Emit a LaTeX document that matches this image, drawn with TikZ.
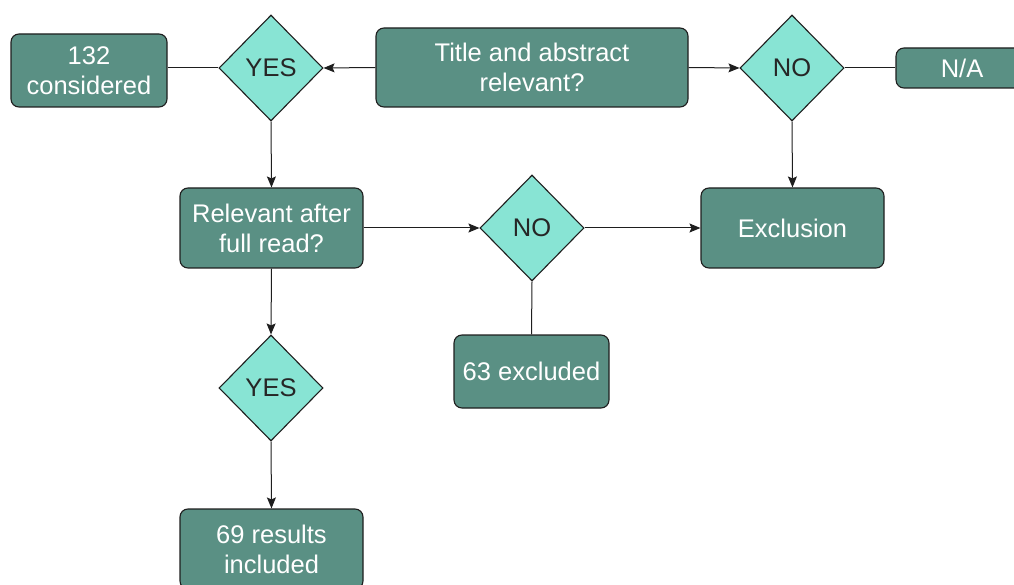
\documentclass[tikz,border=0pt]{standalone}
\usepackage{fontspec}
\setmainfont{Liberation Sans}
\usetikzlibrary{shapes.geometric,arrows.meta}
\definecolor{boxfill}{RGB}{90,144,132}
\definecolor{diafill}{RGB}{136,228,212}
\definecolor{edgecol}{RGB}{30,30,30}
\begin{document}
\begin{tikzpicture}[x=1pt, y=-1pt,
    box/.style={rectangle, rounded corners=8pt, draw=edgecol, line width=1.1pt, fill=boxfill,
      text=white, align=center, inner sep=0pt, font=\fontsize{25.5}{30}\selectfont},
    decision/.style={diamond, draw=edgecol, line width=1.1pt, fill=diafill, text=black!85,
      minimum width=104pt, minimum height=106pt, inner sep=0pt, font=\fontsize{25.5}{30}\selectfont},
    flow/.style={-{Stealth[length=11pt, width=9pt, inset=2pt]}, line width=1pt, draw=edgecol},
    link/.style={line width=1pt, draw=edgecol}
  ]
  \clip (0,0) rectangle (1014,585);

  \node[box, minimum width=312pt, minimum height=79pt] (title) at (532,67.5) {Title and abstract\\relevant?};
  \node[decision] (yes1) at (271,68) {YES};
  \node[decision] (no1) at (792,68) {NO};
  \node[box, minimum width=156pt, minimum height=73pt] (cons) at (89,70.5) {132\\considered};
  \node[box, minimum width=132pt, minimum height=40pt] (na) at (962,68) {N/A};

  \node[box, minimum width=183pt, minimum height=80pt] (rel) at (271.5,228) {Relevant after\\full read?};
  \node[decision] (no2) at (532,228) {NO};
  \node[box, minimum width=183pt, minimum height=80pt] (excl) at (792.5,228) {Exclusion};
  \node[box, minimum width=155pt, minimum height=73pt] (ex63) at (531.5,371.5) {63 excluded};

  \node[decision] (yes2) at (271,388) {YES};
  \node[box, minimum width=183pt, minimum height=80pt] (inc) at (271.5,549) {69 results\\included};

  \draw[flow] (title.west) -- (yes1.east);
  \draw[flow] (title.east) -- (no1.west);
  \draw[link] (yes1.west) -- (yes1.west -| cons.east);
  \draw[link] (no1.east) -- (na.west);
  \draw[flow] (yes1.south) -- (rel.north);
  \draw[flow] (no1.south) -- (excl.north);
  \draw[flow] (rel.east) -- (no2.west);
  \draw[flow] (no2.east) -- (excl.west);
  \draw[link] (no2.south) -- (ex63.north);
  \draw[flow] (rel.south) -- (yes2.north);
  \draw[flow] (yes2.south) -- (inc.north);
\end{tikzpicture}
\end{document}
